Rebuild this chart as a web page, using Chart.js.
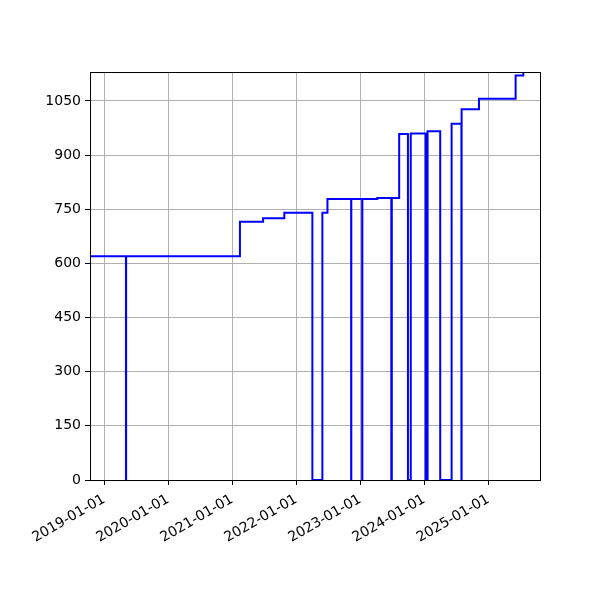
<!DOCTYPE html>
<html>
<head>
<meta charset="utf-8">
<script src="https://cdn.jsdelivr.net/npm/chart.js@4/dist/chart.umd.min.js"></script>
<style>
  html, body { margin: 0; padding: 0; background: #fff; }
  #wrap { width: 600px; height: 600px; }
</style>
</head>
<body>
<div id="wrap"><canvas id="stepchart"></canvas></div>
<script>
// step series (value holds until the next date)
var dates = [
    '2018-10-13', '2019-05-06', '2019-05-07', '2021-02-14', '2021-06-26',
    '2021-10-25', '2022-04-03', '2022-05-30', '2022-06-28', '2022-11-10',
    '2022-11-11', '2023-01-12', '2023-01-13', '2023-04-08', '2023-06-27',
    '2023-06-30', '2023-08-11', '2023-09-30', '2023-10-16', '2024-01-09',
    '2024-01-20', '2024-04-01', '2024-06-05', '2024-07-31', '2024-08-01',
    '2024-11-08', '2025-06-05', '2025-07-19'
];
var values = [
    620, 0, 620, 715, 725,
    740, 0, 740, 778, 0,
    778, 0, 778, 781, 0,
    781, 958, 0, 960, 0,
    966, 0, 987, 0, 1027,
    1056, 1120, 1145
];
var yTicks = [0, 150, 300, 450, 600, 750, 900, 1050];
var xTickYears = [2019, 2020, 2021, 2022, 2023, 2024, 2025];
var xStart = '2018-10-13';
var xEnd = '2025-10-22';
var yMax = 1130;

function toMs(s) {
    var p = s.split('-');
    return Date.UTC(+p[0], +p[1] - 1, +p[2]);
}

var points = [];
for (var i = 0; i < dates.length; i++) {
    points.push({ x: toMs(dates[i]), y: values[i] });
}

// matplotlib style box around the plot area
var frame = {
    id: 'frame',
    afterDraw: function(chart) {
        var a = chart.chartArea, c = chart.ctx;
        c.save();
        c.strokeStyle = '#000';
        c.lineWidth = 1;
        c.strokeRect(Math.round(a.left) + 0.5, Math.round(a.top) + 0.5,
                     Math.round(a.right - a.left), Math.round(a.bottom - a.top));
        c.restore();
    }
};

var ctx = document.getElementById('stepchart').getContext('2d');
window.myStep = new Chart(ctx, {
    type: 'line',
    data: {
        datasets: [{
            data: points,
            borderColor: '#0000ff',
            borderWidth: 2,
            pointRadius: 0,
            fill: false,
            stepped: 'before'
        }]
    },
    options: {
        responsive: true,
        maintainAspectRatio: false,
        animation: false,
        layout: { padding: { left: 0, top: 72, right: 60, bottom: 0 } },
        plugins: {
            legend: { display: false },
            tooltip: { enabled: false }
        },
        scales: {
            x: {
                type: 'linear',
                min: toMs(xStart),
                max: toMs(xEnd),
                afterBuildTicks: function(scale) {
                    scale.ticks = xTickYears.map(function(y) {
                        return { value: Date.UTC(y, 0, 1) };
                    });
                },
                afterFit: function(scale) { scale.height = 120; },
                grid: { color: '#b0b0b0', lineWidth: 1, tickColor: '#000', tickLength: 5 },
                border: { display: false },
                ticks: {
                    color: '#000',
                    font: { family: 'DejaVu Sans', size: 14 },
                    minRotation: 30,
                    maxRotation: 30,
                    padding: 6,
                    autoSkip: false,
                    callback: function(v) {
                        return new Date(v).getUTCFullYear() + '-01-01';
                    }
                }
            },
            y: {
                min: 0,
                max: yMax,
                afterBuildTicks: function(scale) {
                    scale.ticks = yTicks.map(function(v) { return { value: v }; });
                },
                afterFit: function(scale) { scale.width = 90; },
                grid: { color: '#b0b0b0', lineWidth: 1, tickColor: '#000', tickLength: 5 },
                border: { display: false },
                ticks: {
                    color: '#000',
                    font: { family: 'DejaVu Sans', size: 14 },
                    padding: 4,
                    callback: function(v) { return String(v); }
                }
            }
        }
    },
    plugins: [frame]
});
</script>
</body>
</html>
